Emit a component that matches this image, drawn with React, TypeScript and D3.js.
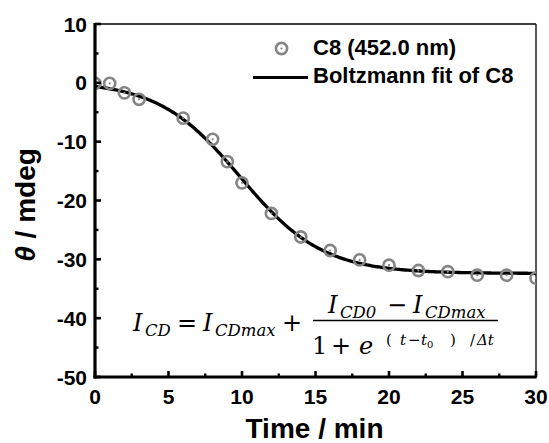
import React from "react";
import * as d3 from "d3";

const times = [0, 1, 2, 3, 6, 8, 9, 10, 12, 14, 16, 18, 20, 22, 24, 26, 28, 30];
const values = [-0.1, -0.1, -1.7, -2.8, -6.0, -9.6, -13.4, -17.0, -22.2, -26.2, -28.5, -30.1, -31.0, -31.9, -32.1, -32.7, -32.7, -33.2];
// Boltzmann fit parameters
const fitA1 = [0.3];
const fitA2 = [-32.4];
const fitX0 = [9.9];
const fitDx = [2.8];
const xTicks = [0, 5, 10, 15, 20, 25, 30];
const yTicks = [10, 0, -10, -20, -30, -40, -50];
const seriesNames = ["C8 (452.0 nm)", "Boltzmann fit of C8"];

const W = 549, H = 443;
const L = 95, R = 536, T = 24, B = 377;

export default function App() {
  const x = d3.scaleLinear().domain([0, 30]).range([L, R]);
  const y = d3.scaleLinear().domain([-50, 10]).range([B, T]);
  const boltz = (t: number) => fitA2[0] + (fitA1[0] - fitA2[0]) / (1 + Math.exp((t - fitX0[0]) / fitDx[0]));
  const fitT = d3.range(0, 30.001, 0.1);
  const line = d3.line<number>().x(t => x(t)).y(t => y(boltz(t))).curve(d3.curveLinear);
  const minorX = d3.range(2.5, 30, 5);
  const minorY = d3.range(-45, 10, 10);
  const grey = "#858585";
  const sans = "Liberation Sans, Arial, sans-serif";
  const serif = "DejaVu Serif, serif";
  const mainFs = 24;
  const subFs = 16.5;
  const it = { fontFamily: serif, fontStyle: "italic" as const };
  const rm = { fontFamily: serif };
  return (
    <svg width={W} height={H} style={{ position: "absolute", left: 0, top: 0, background: "#fff" }}>
      <defs>
        <clipPath id="plot"><rect x={L} y={T} width={R - L} height={B - T} /></clipPath>
      </defs>
      <rect width={W} height={H} fill="#fff" />
      {/* frame */}
      <line x1={L} x2={R} y1={T} y2={T} stroke="#000" strokeWidth={1.3} />
      <line x1={R} x2={R} y1={T} y2={B} stroke="#000" strokeWidth={1.3} />
      <g clipPath="url(#plot)">
        <path d={line(fitT) || ""} fill="none" stroke="#000" strokeWidth={3.3} />
        {times.map((t, i) => (
          <g key={i}>
            <circle cx={x(t)} cy={y(values[i])} r={5.6} fill="none" stroke={grey} strokeWidth={2.6} />
            <circle cx={x(t)} cy={y(values[i])} r={1.1} fill={grey} />
          </g>
        ))}
      </g>
      {/* axes */}
      <line x1={L} x2={L} y1={T - 1} y2={B + 1.5} stroke="#000" strokeWidth={3.2} />
      <line x1={L - 1.5} x2={R + 0.7} y1={B} y2={B} stroke="#000" strokeWidth={3.2} />
      {yTicks.map(v => (
        <g key={"y" + v}>
          <line x1={L} x2={L + 6} y1={y(v)} y2={y(v)} stroke="#000" strokeWidth={2.6} />
          <text x={L - 8} y={y(v) + 7.5} textAnchor="end" fontFamily={sans} fontWeight="bold" fontSize={21}>{v}</text>
        </g>
      ))}
      {minorY.map(v => (
        <line key={"my" + v} x1={L} x2={L + 3.5} y1={y(v)} y2={y(v)} stroke="#000" strokeWidth={2.4} />
      ))}
      {xTicks.map(v => (
        <g key={"x" + v}>
          <line x1={x(v)} x2={x(v)} y1={B} y2={B - 6} stroke="#000" strokeWidth={2.6} />
          <text x={x(v)} y={404} textAnchor="middle" fontFamily={sans} fontWeight="bold" fontSize={21}>{v}</text>
        </g>
      ))}
      {minorX.map(v => (
        <line key={"mx" + v} x1={x(v)} x2={x(v)} y1={B} y2={B - 3.5} stroke="#000" strokeWidth={2.4} />
      ))}
      {/* axis titles */}
      <text x={(L + R) / 2 - 1} y={438} textAnchor="middle" fontFamily={sans} fontWeight="bold" fontSize={28}>Time / min</text>
      <text transform={`translate(35,205) rotate(-90)`} textAnchor="middle" fontFamily={sans} fontWeight="bold" fontSize={28}>
        <tspan fontStyle="italic">θ</tspan> / mdeg
      </text>
      {/* legend */}
      <circle cx={281.5} cy={48.5} r={5.6} fill="none" stroke={grey} strokeWidth={2.6} />
      <circle cx={281.5} cy={48.5} r={1.1} fill={grey} />
      <text x={313} y={55} fontFamily={sans} fontWeight="bold" fontSize={22}>{seriesNames[0]}</text>
      <line x1={253} x2={308} y1={77.5} y2={77.5} stroke="#000" strokeWidth={3} />
      <text x={313} y={83} fontFamily={sans} fontWeight="bold" fontSize={22}>{seriesNames[1]}</text>
      {/* formula: left side */}
      <g fill="#000">
        <text x={133} y={331} {...it} fontSize={mainFs}>I</text>
        <text x={145} y={336} {...it} fontSize={subFs}>CD</text>
        <text x={177} y={331} {...rm} fontSize={mainFs}>=</text>
        <text x={203} y={331} {...it} fontSize={mainFs}>I</text>
        <text x={215} y={336} {...it} fontSize={subFs}>CDmax</text>
        <text x={282} y={331} {...rm} fontSize={mainFs}>+</text>
        {/* numerator */}
        <text x={328} y={313} {...it} fontSize={mainFs}>I</text>
        <text x={340} y={318} {...it} fontSize={subFs}>CD0</text>
        <text x={387} y={313} {...rm} fontSize={mainFs}>−</text>
        <text x={413} y={313} {...it} fontSize={mainFs}>I</text>
        <text x={425} y={318} {...it} fontSize={subFs}>CDmax</text>
        <line x1={313} x2={498} y1={320.5} y2={320.5} stroke="#000" strokeWidth={1.3} />
        {/* denominator */}
        <text x={312} y={354} {...rm} fontSize={mainFs}>1</text>
        <text x={331} y={354} {...rm} fontSize={mainFs}>+</text>
        <text x={359} y={354} {...it} fontSize={mainFs}>e</text>
        <text x={386} y={345} {...rm} fontSize={15}>(</text>
        <text x={400} y={345} {...it} fontSize={15}>t</text>
        <text x={408} y={345} {...rm} fontSize={15}>−</text>
        <text x={421} y={345} {...it} fontSize={15}>t</text>
        <text x={427} y={348} {...rm} fontSize={10}>0</text>
        <text x={450} y={345} {...rm} fontSize={15}>)</text>
        <text x={470} y={345} {...rm} fontSize={15}>/</text>
        <text x={477} y={345} {...it} fontSize={15}>Δt</text>
      </g>
    </svg>
  );
}
